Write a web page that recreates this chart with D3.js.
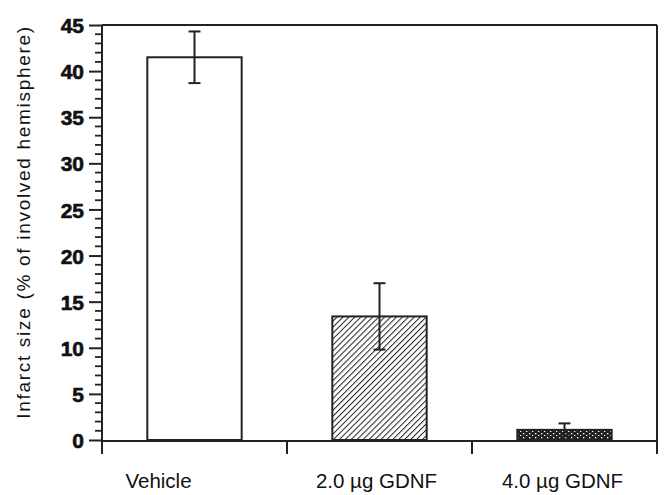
<!DOCTYPE html>
<html><head><meta charset="utf-8">
<script src="https://cdn.jsdelivr.net/npm/d3@7"></script>
<style>body{margin:0;background:#fff}svg{display:block}</style>
</head><body>
<script>
const categories = ["Vehicle", "2.0 \u00b5g GDNF", "4.0 \u00b5g GDNF"];
const values = [41.5, 13.4, 1.1];
const errors = [2.8, 3.6, 0.7];
const yTicks = [0, 5, 10, 15, 20, 25, 30, 35, 40, 45];
const yTitle = "Infarct size (% of involved hemisphere)";

const W = 666, H = 495;
const FONT = "Liberation Sans, Arial, Helvetica, sans-serif";
const svg = d3.select("body").append("svg").attr("width", W).attr("height", H);
const defs = svg.append("defs");
const hatch = defs.append("pattern").attr("id","hatch").attr("patternUnits","userSpaceOnUse")
  .attr("width",4.2).attr("height",4.2).attr("patternTransform","rotate(45)");
hatch.append("rect").attr("width",4.2).attr("height",4.2).attr("fill","#fff");
hatch.append("line").attr("x1",0).attr("y1",0).attr("x2",0).attr("y2",4.2).attr("stroke","#222").attr("stroke-width",2);
const dots = defs.append("pattern").attr("id","dots").attr("patternUnits","userSpaceOnUse")
  .attr("width",6).attr("height",4);
dots.append("rect").attr("width",6).attr("height",4).attr("fill","#222");
dots.append("rect").attr("x",1).attr("y",1).attr("width",1.3).attr("height",1.3).attr("fill","#fff");
dots.append("rect").attr("x",4).attr("y",3).attr("width",1.3).attr("height",1).attr("fill","#fff");
const fills = ["#fff", "url(#hatch)", "url(#dots)"];

const x0 = 102, x1 = 657, yTop = 25, yBot = 440;
const pad = 0.49;
const x = d3.scaleBand().domain(categories).range([x0, x1]).paddingInner(pad).paddingOuter(pad/2);
const y = d3.scaleLinear().domain([0, 45]).range([yBot, yTop]);

// bars
svg.selectAll("rect.bar").data(values).join("rect").attr("class","bar")
  .attr("x",(d,i)=>x(categories[i])).attr("width",x.bandwidth())
  .attr("y",d=>y(d)).attr("height",d=>y(0)-y(d))
  .attr("fill",(d,i)=>fills[i]).attr("stroke","#222").attr("stroke-width",2);

// error bars
const eg = svg.append("g").attr("stroke","#222").attr("stroke-width",2);
values.forEach((v,i)=>{
  const cx = x(categories[i]) + x.bandwidth()/2;
  const lo = Math.max(v - errors[i], 0), hi = v + errors[i];
  eg.append("line").attr("x1",cx).attr("x2",cx).attr("y1",y(lo)).attr("y2",y(hi));
  eg.append("line").attr("x1",cx-6).attr("x2",cx+6).attr("y1",y(hi)).attr("y2",y(hi));
  if (v - errors[i] > 0.3) eg.append("line").attr("x1",cx-6).attr("x2",cx+6).attr("y1",y(lo)).attr("y2",y(lo));
});

// y axis
const yAxis = d3.axisLeft(y).tickValues(yTicks).tickSize(13).tickPadding(5);
const gy = svg.append("g").attr("transform",`translate(${x0},0)`).call(yAxis);
gy.select(".domain").remove();
gy.selectAll(".tick line").attr("stroke","#222").attr("stroke-width",2);
gy.selectAll(".tick text").attr("font-family",FONT)
  .attr("font-size",21).attr("font-weight","bold").attr("fill","#111")
  .attr("stroke","#111").attr("stroke-width",0.6).attr("dy","0.36em");
const minor = d3.range(0, 46).filter(v => v % 5 !== 0);
svg.append("g").selectAll("line").data(minor).join("line")
  .attr("x1",x0-7).attr("x2",x0).attr("y1",d=>y(d)).attr("y2",d=>y(d))
  .attr("stroke","#222").attr("stroke-width",1.8);

// frame lines
const fg = svg.append("g").attr("stroke","#222").attr("stroke-width",2).attr("fill","none");
fg.append("line").attr("x1",x0).attr("x2",x0).attr("y1",yTop).attr("y2",yBot+14);
fg.append("line").attr("x1",x0).attr("x2",x1).attr("y1",yTop).attr("y2",yTop);
fg.append("line").attr("x1",x1).attr("x2",x1).attr("y1",yTop).attr("y2",yBot+14);
fg.append("line").attr("x1",x0).attr("x2",x1).attr("y1",yBot+1).attr("y2",yBot+1);
// category boundary ticks
const bounds = categories.slice(1).map(c => x(c) - x.step()*pad/2);
fg.selectAll("line.b").data(bounds).join("line").attr("class","b")
  .attr("x1",d=>d).attr("x2",d=>d).attr("y1",yBot+1).attr("y2",yBot+14);

// category labels (first label sits left of its bar in the original)
const labelShift = [-36, -3, -2];
svg.append("g").selectAll("text").data(categories).join("text")
  .attr("x",(d,i)=>x(d)+x.bandwidth()/2+labelShift[i]).attr("y",488).attr("text-anchor","middle")
  .attr("font-family",FONT).attr("font-size",20.5).attr("fill","#111")
  .text(d=>d);

// y title
svg.append("text").attr("transform",`translate(30,${222}) rotate(-90)`)
  .attr("text-anchor","middle").attr("font-family",FONT)
  .attr("font-size",19).attr("letter-spacing",1.7).attr("fill","#111").text(yTitle);
</script>
</body></html>
